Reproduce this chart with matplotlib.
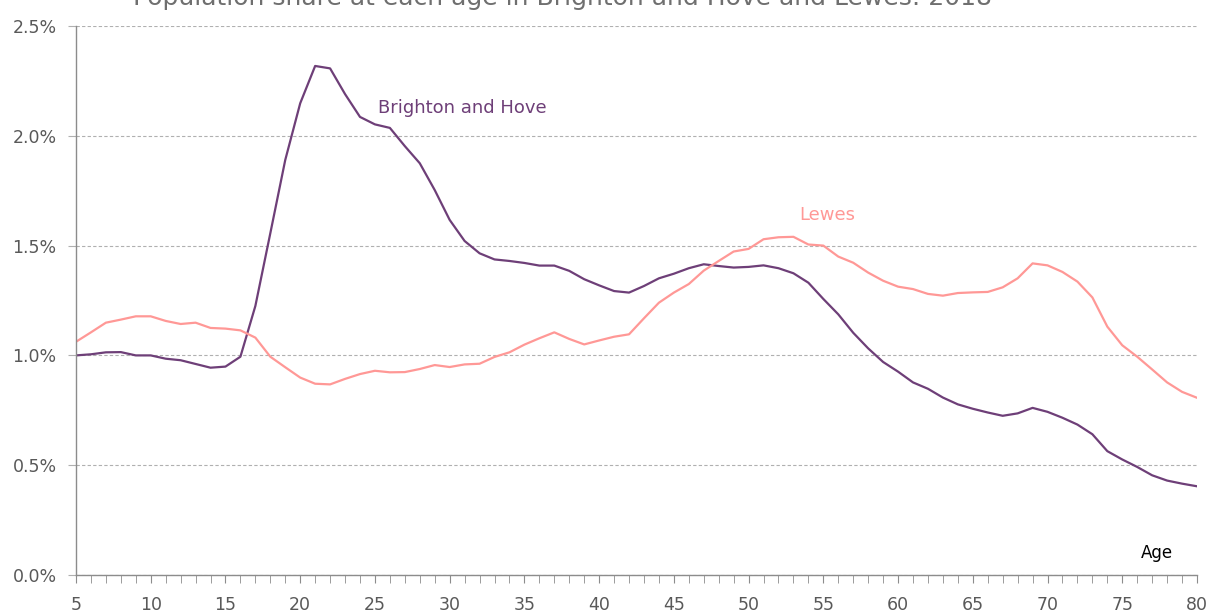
import matplotlib
matplotlib.use("Agg")
import matplotlib.pyplot as plt
from matplotlib.ticker import MultipleLocator, FuncFormatter

# Ages 5..80
ages = list(range(5, 81))

# Population share (%) at each age
brighton = [
    1.00, 1.005, 1.014, 1.015, 1.000, 1.000, 0.985, 0.978, 0.961, 0.944,  # 5-14
    0.949, 0.994, 1.225, 1.556, 1.890, 2.148, 2.318, 2.307, 2.190, 2.086,  # 15-24
    2.052, 2.036, 1.953, 1.875, 1.753, 1.617, 1.521, 1.465, 1.437, 1.430,  # 25-34
    1.421, 1.409, 1.409, 1.385, 1.347, 1.319, 1.293, 1.286, 1.316, 1.351,  # 35-44
    1.372, 1.397, 1.415, 1.407, 1.400, 1.403, 1.410, 1.397, 1.374, 1.331,  # 45-54
    1.257, 1.187, 1.103, 1.032, 0.970, 0.926, 0.877, 0.848, 0.808, 0.777,  # 55-64
    0.757, 0.740, 0.725, 0.736, 0.761, 0.743, 0.716, 0.685, 0.641, 0.564,  # 65-74
    0.526, 0.492, 0.454, 0.430, 0.416, 0.404,                              # 75-80
]
lewes = [
    1.062, 1.105, 1.149, 1.163, 1.178, 1.178, 1.157, 1.143, 1.149, 1.125,  # 5-14
    1.122, 1.114, 1.081, 0.994, 0.946, 0.899, 0.871, 0.868, 0.893, 0.915,  # 15-24
    0.930, 0.923, 0.924, 0.938, 0.956, 0.947, 0.959, 0.962, 0.993, 1.014,  # 25-34
    1.049, 1.078, 1.105, 1.075, 1.050, 1.068, 1.085, 1.096, 1.169, 1.240,  # 35-44
    1.286, 1.325, 1.386, 1.430, 1.473, 1.485, 1.529, 1.538, 1.540, 1.505,  # 45-54
    1.500, 1.450, 1.422, 1.377, 1.340, 1.313, 1.302, 1.280, 1.272, 1.284,  # 55-64
    1.287, 1.289, 1.310, 1.351, 1.419, 1.410, 1.380, 1.336, 1.264, 1.131,  # 65-74
    1.046, 0.994, 0.936, 0.877, 0.834, 0.807,                              # 75-80
]

purple = "#6e3f78"
pink = "#ff9896"
grey = "#595959"

plt.rcParams["font.family"] = ["DejaVu Sans"]

fig = plt.figure(figsize=(12.15, 6.13), dpi=100)
ax = fig.add_axes([76 / 1215, 38 / 613, (1197 - 76) / 1215, (575 - 26) / 613])

ax.plot(ages, brighton, color=purple, lw=1.6)
ax.plot(ages, lewes, color=pink, lw=1.6)

ax.set_xlim(5, 80)
ax.set_ylim(0, 2.5)

ax.xaxis.set_major_locator(MultipleLocator(5))
ax.xaxis.set_minor_locator(MultipleLocator(1))
ax.yaxis.set_major_locator(MultipleLocator(0.5))
ax.yaxis.set_major_formatter(FuncFormatter(lambda v, p: f"{v:.1f}%"))

ax.grid(axis="y", color="#b0b0b0", linestyle=(0, (3, 2)), lw=0.8)
for s in ["top", "right"]:
    ax.spines[s].set_visible(False)
for s in ["left", "bottom"]:
    ax.spines[s].set_color("#8c8c8c")
    ax.spines[s].set_linewidth(1.0)

ax.tick_params(axis="x", which="both", direction="out", length=6, color="#8c8c8c",
               labelsize=12.5, labelcolor=grey, pad=9)
ax.tick_params(axis="y", direction="out", length=6, color="#b0b0b0",
               labelsize=12.5, labelcolor=grey, pad=8)

ax.text(25.2, 2.127, "Brighton and Hove", color=purple, fontsize=13, va="center", ha="left")
ax.text(53.4, 1.639, "Lewes", color=pink, fontsize=13, va="center", ha="left")
ax.text(77.3, 0.10, "Age", color="black", fontsize=12, va="center", ha="center")

fig.text(133 / 1215, 1 - 5 / 613,
         "Population share at each age in Brighton and Hove and Lewes: 2018",
         color="#6f6f6f", fontsize=18, ha="left", va="baseline")

fig.savefig("out.png", dpi=100)
